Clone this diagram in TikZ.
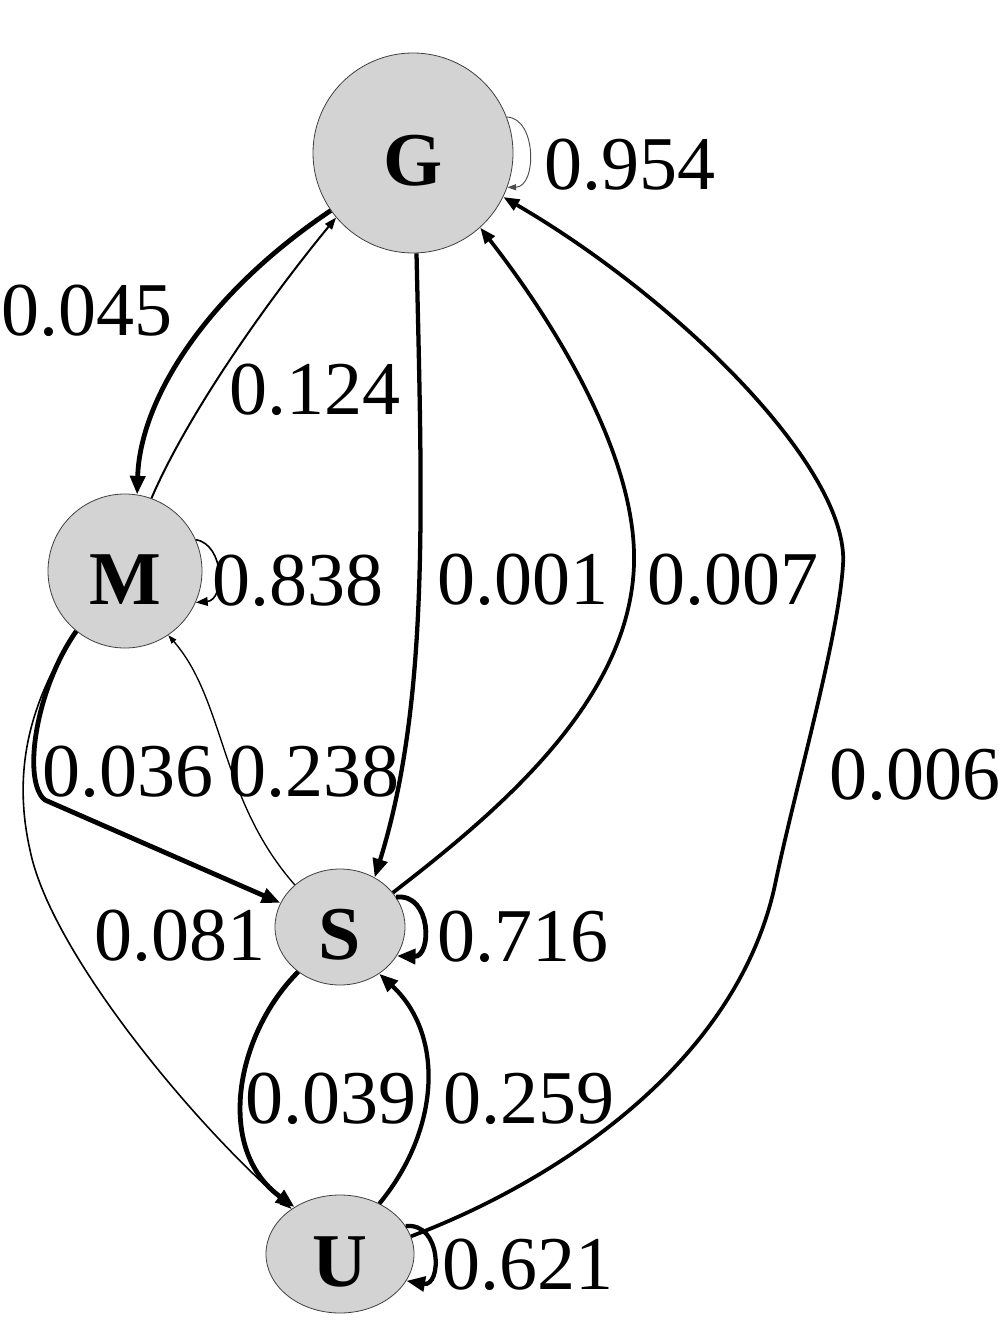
\documentclass[tikz,border=0pt]{standalone}
\usepackage{fontspec}
\setmainfont{Liberation Serif}
\usetikzlibrary{arrows.meta,shapes.geometric}
\definecolor{nodegray}{RGB}{211,211,211}
\begin{document}
\begin{tikzpicture}[x=0.75pt,y=-0.75pt,
  state/.style={draw=black!75, line width=0.6pt, fill=nodegray, inner sep=0pt},
  nm/.style={font=\fontsize{57}{60}\selectfont\bfseries, inner sep=0pt},
  lab/.style={font=\fontsize{57}{60}\selectfont, inner sep=0pt},
  tipA/.style={-{Triangle[length=14pt,width=11pt]}},
  tipB/.style={-{Triangle[length=12pt,width=9pt]}},
  tipC/.style={-{Triangle[length=9pt,width=6.5pt]}},
  tipD/.style={-{Triangle[length=6.5pt,width=4.5pt]}},
  w4/.style={line width=3.6pt},
  w3/.style={line width=3.2pt},
  w2/.style={line width=2.8pt},
  w1/.style={line width=1.5pt},
  w0/.style={line width=1pt}]
\useasboundingbox (0,0) rectangle (1005,1344);

% states
\node[state, circle, minimum size={200*0.75pt}] (G) at (413,153) {};
\node[state, circle, minimum size={154*0.75pt}] (M) at (125,571) {};
\node[state, ellipse, minimum width={130*0.75pt}, minimum height={116*0.75pt}] (S) at (340,927) {};
\node[state, ellipse, minimum width={148*0.75pt}, minimum height={118*0.75pt}] (U) at (340,1254) {};
\node[nm] (Gt) at (413,161) {G};
\node[nm] (Mt) at (125,580) {M};
\node[nm] (St) at (340,935) {S};
\node[nm] (Ut) at (340,1262) {U};

% edges
\draw[line width=0.7pt, draw=black!70, tipD] (G.21) .. controls (537,118) and (537,187) .. (G.-20);
\draw[w4, tipA] (G.215) .. controls (205,295) and (140,400) .. (M.81);
\draw[w1, tipC] (M.70) .. controls (185,420) and (260,310) .. (G.220);
\draw[line width=1.2pt, tipC] (M.24) .. controls (225,545) and (225,600) .. (M.-24);
\draw[w3, tipA] (G.-88) .. controls (422,500) and (430,700) .. (S.55);
\draw[w2, tipB] (S.33) .. controls (500,810) and (630,700) .. (634,564)
   .. controls (637,460) and (560,330) .. (G.-48);
\draw[w2, tipB] (U.14) .. controls (560,1180) and (740,1060) .. (776,880)
   .. controls (796,785) and (838,640) .. (843,565)
   .. controls (850,470) and (680,300) .. (G.-26);
\draw[w4, tipA] (M.231) .. controls (35,690) and (22,782) .. (45,800) -- (S.158);
\draw[w0, tipD] (S.137) .. controls (220,800) and (225,700) .. (M.-56);
\draw[line width=1.2pt, tipC] (M.231) .. controls (30,700) and (12,770) .. (30,850)
   .. controls (50,950) and (190,1120) .. (U.137);
\draw[w4, tipA] (S.28) .. controls (432,893) and (432,957) .. (S.-27);
\draw[w4, tipA] (S.227) .. controls (235,1035) and (215,1150) .. (U.134);
\draw[w3, tipA] (U.52) .. controls (440,1130) and (445,1035) .. (S.-50);
\draw[w3, tipA] (U.23) .. controls (442,1222) and (442,1287) .. (U.-22);

% labels
\node[lab] (l1) at (630,165) {0.954};
\node[lab] (l2) at (87,311) {0.045};
\node[lab] (l3) at (315,390) {0.124};
\node[lab] (l4) at (298,581) {0.838};
\node[lab] (l5) at (523,580) {0.001};
\node[lab] (l6) at (733,580) {0.007};
\node[lab] (l7) at (128,772) {0.036};
\node[lab] (l8) at (314,772) {0.238};
\node[lab] (l9) at (915,775) {0.006};
\node[lab] (l10) at (180,936) {0.081};
\node[lab] (l11) at (523,937) {0.716};
\node[lab] (l12) at (331,1099) {0.039};
\node[lab] (l13) at (529,1099) {0.259};
\node[lab] (l14) at (528,1265) {0.621};
\end{tikzpicture}
\end{document}
